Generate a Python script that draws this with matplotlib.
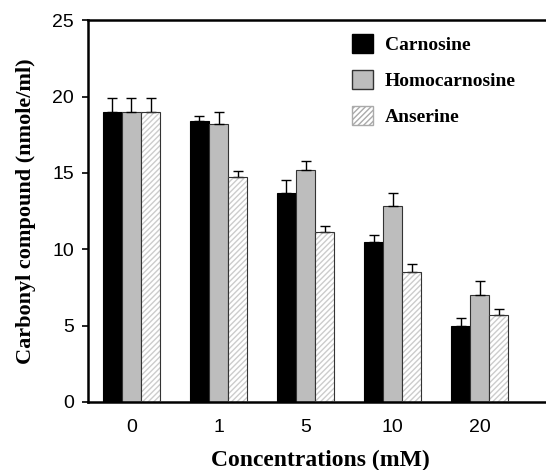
import numpy as np
import matplotlib
matplotlib.use("Agg")
import matplotlib.pyplot as plt
from matplotlib.patches import Patch

# Data
concentrations = ['0', '1', '5', '10', '20']
carnosine = [19.0, 18.4, 13.7, 10.5, 5.0]
carnosine_err = [0.9, 0.3, 0.8, 0.4, 0.5]
homocarnosine = [19.0, 18.2, 15.2, 12.8, 7.0]
homocarnosine_err = [0.9, 0.8, 0.6, 0.9, 0.9]
anserine = [19.0, 14.7, 11.1, 8.5, 5.7]
anserine_err = [0.9, 0.4, 0.4, 0.5, 0.35]

serif = ['Liberation Serif', 'DejaVu Serif']
sans = ['Liberation Sans', 'DejaVu Sans']

fig = plt.figure(figsize=(5.46, 4.70), dpi=100)
ax = fig.add_axes([0.161, 0.145, 0.85, 0.812])

x = np.arange(len(concentrations))
w = 0.22
ekw = dict(ecolor='black', elinewidth=1.0, capsize=3.5, capthick=1.0)

def up(err):
    return [np.zeros(len(err)), err]

ax.bar(x - w, carnosine, w, color='black', edgecolor='black', linewidth=0.8,
       yerr=up(carnosine_err), error_kw=ekw, zorder=2)
ax.bar(x, homocarnosine, w, color='#bdbdbd', edgecolor='#333333', linewidth=0.8,
       yerr=up(homocarnosine_err), error_kw=ekw, zorder=2)
# hatched bars: hatch in light gray, outline drawn on top in dark gray
ax.bar(x + w, anserine, w, color='white', edgecolor='#cccccc', hatch='//////',
       linewidth=0, yerr=up(anserine_err), error_kw=ekw, zorder=2)
ax.bar(x + w, anserine, w, color='none', edgecolor='#333333', linewidth=0.8, zorder=3)

ax.set_xlim(-0.5, 4.83)
ax.set_ylim(0, 25)
ax.set_yticks([0, 5, 10, 15, 20, 25])
ax.set_xticks(x)
ax.set_xticklabels(concentrations)
ax.tick_params(axis='x', length=0, pad=12)
ax.tick_params(axis='y', length=4, width=1.2, direction='out', pad=6)
for lab in ax.get_xticklabels() + ax.get_yticklabels():
    lab.set_family(sans)
    lab.set_fontsize(14)

for s in ['left', 'bottom', 'top']:
    ax.spines[s].set_linewidth(1.8)
ax.spines['right'].set_visible(False)

ax.set_xlabel('Concentrations (mM)', family=serif, fontweight='bold',
              fontsize=17, labelpad=10)
ax.set_ylabel('Carbonyl compound (nmole/ml)', family=serif, fontweight='bold',
              fontsize=16, labelpad=12)

handles = [
    Patch(facecolor='black', edgecolor='black'),
    Patch(facecolor='#bdbdbd', edgecolor='#333333'),
    Patch(facecolor='white', edgecolor='#aaaaaa', hatch='//////'),
]
leg = ax.legend(handles, ['Carnosine', 'Homocarnosine', 'Anserine'],
                loc='upper left', bbox_to_anchor=(0.531, 1.009), frameon=False,
                prop=dict(family=serif, weight='bold', size=14),
                handlelength=1.1, handleheight=1.1, handletextpad=0.6,
                labelspacing=0.82)

fig.savefig('out.png', dpi=100)
